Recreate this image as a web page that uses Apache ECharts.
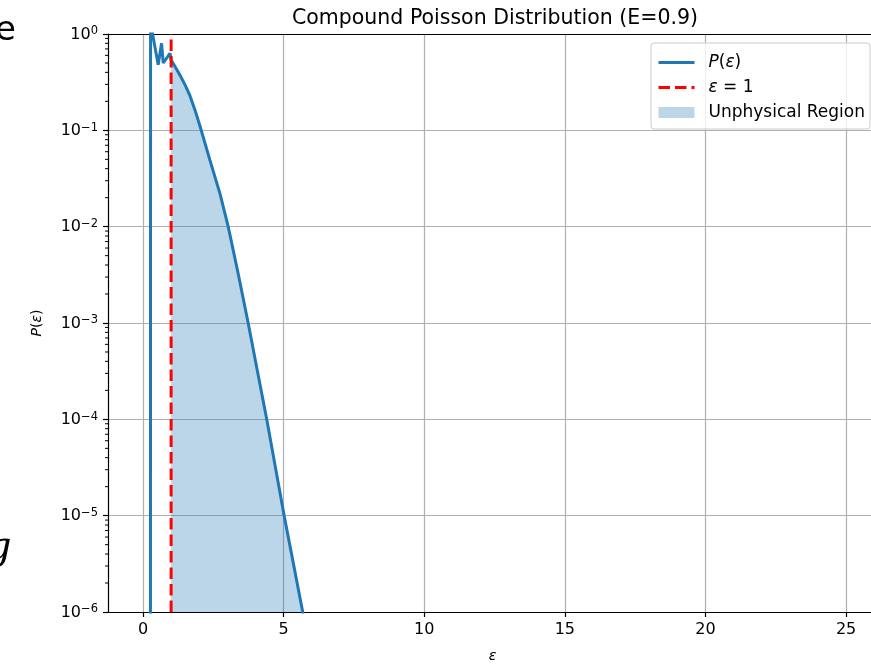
<!DOCTYPE html>
<html>
<head>
<meta charset="utf-8">
<script src="https://cdn.jsdelivr.net/npm/echarts@6/dist/echarts.min.js"></script>
<style>
  html, body { margin: 0; padding: 0; background: #fff; }
  #main { width: 871px; height: 664px; }
</style>
</head>
<body>
<div id="main"></div>
<script>
// values
const epsValues = [0.26, 0.27, 0.54, 0.66, 0.72, 0.96, 1.0, 1.1, 1.2, 1.32, 1.5, 1.67, 1.85, 2.05, 2.38, 2.74, 3.03, 3.38, 3.74, 4.07, 4.40, 4.71, 5.02, 5.35, 5.68, 6.0];
const pValues = [1e-12, 1.3, 0.48, 0.80, 0.50, 0.63, 0.537, 0.479, 0.427, 0.372, 0.295, 0.229, 0.162, 0.105, 0.049, 0.0219, 0.01, 0.0033, 0.001, 3.16e-4, 1e-4, 3.16e-5, 1e-5, 3.16e-6, 1e-6, 3.16e-7];
const xTicks = [0, 5, 10, 15, 20, 25];
const xMin = -1.244, xMax = 26.1;
const yMin = 1e-6, yMax = 1;
const eps1 = 1;

const font = 'DejaVu Sans';

const curve = epsValues.map((x, i) => [x, pValues[i]]);
const fill = curve.filter(p => p[0] >= eps1);

// minor ticks of the log axis (2..9 in each decade)
const minorTicks = [];
for (let d = -6; d < 0; d++) {
  for (let k = 2; k <= 9; k++) minorTicks.push([xMin, k * Math.pow(10, d)]);
}

const chart = echarts.init(document.getElementById('main'));

const option = {
  animation: false,
  title: {
    text: 'Compound Poisson Distribution (E=0.9)',
    left: 490, top: 3, textAlign: 'center',
    textStyle: { fontFamily: font, fontSize: 20.5, fontWeight: 'normal', color: '#000' }
  },
  grid: { left: 108, top: 34, right: -6, bottom: 52, containLabel: false, outerBoundsMode: 'none' },
  legend: {
    orient: 'vertical', left: 651, top: 43,
    itemWidth: 36, itemHeight: 11, itemGap: 8,
    padding: [11, 5, 8, 6],
    borderColor: '#cccccc', borderWidth: 1, borderRadius: 3,
    backgroundColor: 'rgba(255,255,255,0.8)',
    data: [
      { name: 'P(ε)', itemStyle: { opacity: 0 }, lineStyle: { width: 3 } },
      { name: 'ε = 1', itemStyle: { opacity: 0 }, lineStyle: { width: 3 } },
      { name: 'Unphysical Region', icon: 'rect', itemStyle: { color: '#bcd6e8' } }
    ],
    formatter: function (name) {
      if (name === 'P(ε)') return '{i|P}{r|(}{i|ε}{r|)}';
      if (name === 'ε = 1') return '{i|ε}{r| = 1}';
      return '{r|' + name + '}';
    },
    textStyle: {
      fontFamily: font, fontSize: 17, color: '#000', padding: [0, 0, 0, 9],
      rich: {
        i: { fontFamily: font, fontSize: 17, fontStyle: 'italic', color: '#000' },
        r: { fontFamily: font, fontSize: 17, color: '#000' }
      }
    }
  },
  xAxis: [{
    type: 'value', min: xMin, max: xMax, minInterval: 5, maxInterval: 5,
    name: 'ε', nameLocation: 'middle', nameGap: 37,
    nameTextStyle: { fontFamily: font, fontSize: 14, fontStyle: 'italic', color: '#000' },
    axisLine: { show: true, onZero: false, lineStyle: { color: '#000', width: 1.2 } },
    axisTick: { show: true, length: 5, customValues: xTicks, lineStyle: { color: '#000', width: 1.2 } },
    axisLabel: { customValues: xTicks, margin: 10,
      fontFamily: font, fontSize: 16, color: '#000' },
    splitLine: { show: true, lineStyle: { color: '#b0b0b0', width: 1.2 } }
  }, {
    type: 'value', position: 'top', min: xMin, max: xMax,
    axisLine: { show: true, onZero: false, lineStyle: { color: '#000', width: 1.2 } },
    axisTick: { show: false }, axisLabel: { show: false }, splitLine: { show: false }
  }],
  yAxis: {
    type: 'log', logBase: 10, min: yMin, max: yMax, splitNumber: 6,
    name: '{i|P}{r|(}{i|ε}{r|)}', nameLocation: 'middle', nameGap: 64,
    nameTextStyle: {
      rich: {
        i: { fontFamily: font, fontSize: 14, fontStyle: 'italic', color: '#000' },
        r: { fontFamily: font, fontSize: 14, color: '#000' }
      }
    },
    axisLine: { show: true, onZero: false, lineStyle: { color: '#000', width: 1.2 } },
    axisTick: { show: true, length: 5, lineStyle: { color: '#000', width: 1.2 } },
    axisLabel: {
      margin: 10,
      formatter: function (v) {
        const e = Math.round(Math.log10(v));
        return '{b|10}{s|' + (e < 0 ? '\u2212' + (-e) : e) + '}';
      },
      rich: {
        b: { fontFamily: font, fontSize: 16, lineHeight: 17, verticalAlign: 'bottom', color: '#000' },
        s: { fontFamily: font, fontSize: 11.5, lineHeight: 11, verticalAlign: 'top', color: '#000' }
      }
    },
    splitLine: { show: true, lineStyle: { color: '#b0b0b0', width: 1.2 } }
  },
  graphic: [
    { type: 'text', x: -5, y: 14, style: { text: 'e', fontFamily: font, fontSize: 34, fill: '#000' } },
    { type: 'text', x: -14, y: 529, style: { text: 'g', fontFamily: 'DejaVu Serif', fontStyle: 'italic', fontSize: 40, fill: '#000' } }
  ],
  series: [
    {
      name: 'Unphysical Region', type: 'line', data: fill, symbol: 'none', z: 1,
      lineStyle: { width: 0, opacity: 0 },
      itemStyle: { color: '#bcd6e8' },
      areaStyle: { color: '#1f77b4', opacity: 0.3, origin: 'start' }
    },
    {
      name: 'P(ε)', type: 'line', data: curve, symbol: 'none', z: 3,
      itemStyle: { color: '#1f77b4' },
      lineStyle: { color: '#1f77b4', width: 3 }
    },
    {
      name: 'ε = 1', type: 'line', data: [[eps1, yMin], [eps1, yMax]], symbol: 'none', z: 4,
      itemStyle: { color: '#ff0000' },
      lineStyle: { color: '#ff0000', width: 3, type: [11.5, 5] }
    },
    {
      name: 'minor', type: 'custom', data: minorTicks, silent: true, clip: false, z: 5,
      renderItem: function (params, api) {
        const p = api.coord([api.value(0), api.value(1)]);
        return {
          type: 'line',
          shape: { x1: p[0] - 3, y1: p[1], x2: p[0], y2: p[1] },
          style: { stroke: '#000', lineWidth: 1 }
        };
      }
    }
  ]
};

chart.setOption(option);
</script>
</body>
</html>
